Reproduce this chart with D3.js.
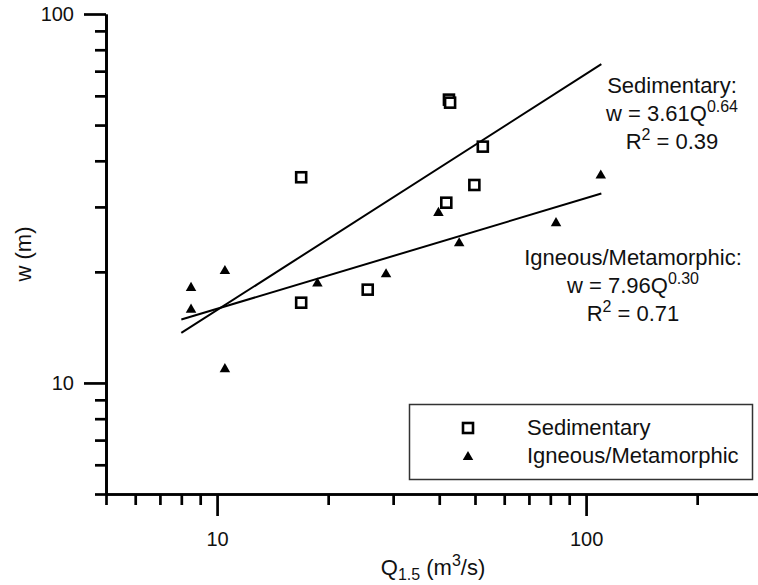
<!DOCTYPE html>
<html>
<head>
<meta charset="utf-8">
<script src="https://cdn.jsdelivr.net/npm/d3@7"></script>
<style>
  body { margin: 0; background: #fff; }
  svg { display: block; font-family: "Liberation Sans", Arial, sans-serif; }
</style>
</head>
<body>
<script>
// sedimentary sites: Q1.5 (m3/s), width (m)
var sedQ = [42.5, 42.8, 52.5, 16.9, 49.8, 41.8, 25.6, 16.9];
var sedW = [58.6, 57.5, 43.7, 36.1, 34.4, 30.8, 17.9, 16.5];
// igneous / metamorphic sites
var ignQ = [8.5, 8.5, 10.5, 18.7, 28.7, 39.8, 45.3, 82.9, 109.6, 10.5];
var ignW = [18.1, 15.8, 20.1, 18.6, 19.7, 28.9, 23.9, 27.1, 36.5, 10.9];
// power law fits w = a * Q^b
var fitNames = ["Sedimentary", "Igneous/Metamorphic"];
var fitA = [3.61, 7.96];
var fitB = [0.64, 0.30];
var fitR2 = ["0.39", "0.71"];
var fitQ = [8, 110];

var xMinor = [5, 6, 7, 8, 9, 20, 30, 40, 50, 60, 70, 80, 90, 200];
var xMajor = [10, 100];
var yMinor = [5, 6, 7, 8, 9, 20, 30, 40, 50, 60, 70, 80, 90];
var yMajor = [10, 100];

var W = 758, H = 585;
var svg = d3.select("body").append("svg").attr("width", W).attr("height", H);

var x = d3.scaleLog().domain([5, 300]).range([106, 106 + 369 * Math.log10(60)]);
var y = d3.scaleLog().domain([5, 100]).range([494, 14]);

function styleAxis(g) {
  g.selectAll("path, line").attr("stroke", "#000").attr("stroke-width", 2.7);
  g.selectAll("text").attr("fill", "#111").attr("font-size", 20).attr("font-family", "Liberation Sans, Arial, sans-serif");
}

// x axis
svg.append("g").attr("transform", "translate(0,494)")
  .call(d3.axisBottom(x).tickValues(xMinor).tickSize(11).tickSizeOuter(0).tickFormat(""))
  .call(styleAxis);
svg.append("g").attr("transform", "translate(0,494)")
  .call(d3.axisBottom(x).tickValues(xMajor).tickSize(22).tickSizeOuter(0).tickPadding(16).tickFormat(d3.format("d")))
  .call(styleAxis);

// y axis
svg.append("g").attr("transform", "translate(106,0)")
  .call(d3.axisLeft(y).tickValues(yMinor).tickSize(11).tickSizeOuter(0).tickFormat(""))
  .call(styleAxis);
svg.append("g").attr("transform", "translate(106,0)")
  .call(d3.axisLeft(y).tickValues(yMajor).tickSize(22).tickSizeOuter(0).tickPadding(10).tickFormat(d3.format("d")))
  .call(styleAxis);

// axis titles
svg.append("text")
  .attr("transform", "translate(23,254) rotate(-90)")
  .attr("text-anchor", "middle").attr("dy", "0.35em")
  .attr("font-size", 22).attr("fill", "#111")
  .text("w (m)");

var xt = svg.append("text")
  .attr("x", 433).attr("y", 575)
  .attr("text-anchor", "middle")
  .attr("font-size", 22).attr("fill", "#111");
xt.append("tspan").text("Q");
xt.append("tspan").attr("font-size", 16).attr("dy", 5).text("1.5");
xt.append("tspan").attr("dy", -5).text(" (m");
xt.append("tspan").attr("font-size", 16).attr("dy", -9).text("3");
xt.append("tspan").attr("dy", 9).text("/s)");

// regression lines
var line = d3.line().x(function(d) { return x(d[0]); }).y(function(d) { return y(d[1]); });
fitA.forEach(function(a, i) {
  var pts = fitQ.map(function(q) { return [q, a * Math.pow(q, fitB[i])]; });
  svg.append("path").datum(pts)
    .attr("d", line)
    .attr("fill", "none").attr("stroke", "#000").attr("stroke-width", 2);
});

// points
var sq = 10;
svg.append("g").selectAll("rect")
  .data(sedQ)
  .enter().append("rect")
  .attr("x", function(d) { return x(d) - sq / 2; })
  .attr("y", function(d, i) { return y(sedW[i]) - sq / 2; })
  .attr("width", sq).attr("height", sq)
  .attr("fill", "#fff").attr("stroke", "#000").attr("stroke-width", 2.6);

var tri = d3.symbol().type(d3.symbolTriangle).size(48);
svg.append("g").selectAll("path")
  .data(ignQ)
  .enter().append("path")
  .attr("d", tri)
  .attr("transform", function(d, i) { return "translate(" + x(d) + "," + y(ignW[i]) + ")"; })
  .attr("fill", "#000");

// fit annotations
var annX = [672, 633];
var annY = [93, 265];
fitNames.forEach(function(name, i) {
  var g = svg.append("g").attr("font-size", 22).attr("fill", "#111").attr("text-anchor", "middle");
  g.append("text").attr("x", annX[i]).attr("y", annY[i]).text(name + ":");
  var t2 = g.append("text").attr("x", annX[i]).attr("y", annY[i] + 28);
  t2.append("tspan").text("w = " + fitA[i].toFixed(2) + "Q");
  t2.append("tspan").attr("font-size", 16).attr("dy", -9).text(fitB[i].toFixed(2));
  var t3 = g.append("text").attr("x", annX[i]).attr("y", annY[i] + 56);
  t3.append("tspan").text("R");
  t3.append("tspan").attr("font-size", 16).attr("dy", -9).text("2");
  t3.append("tspan").attr("dy", 9).text(" = " + fitR2[i]);
});

// legend
var lg = svg.append("g");
lg.append("rect").attr("x", 409.5).attr("y", 404.5).attr("width", 343).attr("height", 75)
  .attr("fill", "#fff").attr("stroke", "#333").attr("stroke-width", 1.5);
lg.append("rect").attr("x", 468 - sq / 2).attr("y", 428 - sq / 2).attr("width", sq).attr("height", sq)
  .attr("fill", "#fff").attr("stroke", "#000").attr("stroke-width", 2.6);
lg.append("path").attr("d", tri).attr("transform", "translate(468,457)").attr("fill", "#000");
lg.selectAll("text.lab").data(fitNames).enter().append("text")
  .attr("x", 527).attr("y", function(d, i) { return 435 + i * 28; })
  .attr("font-size", 22).attr("fill", "#111")
  .text(function(d) { return d; });
</script>
</body>
</html>
